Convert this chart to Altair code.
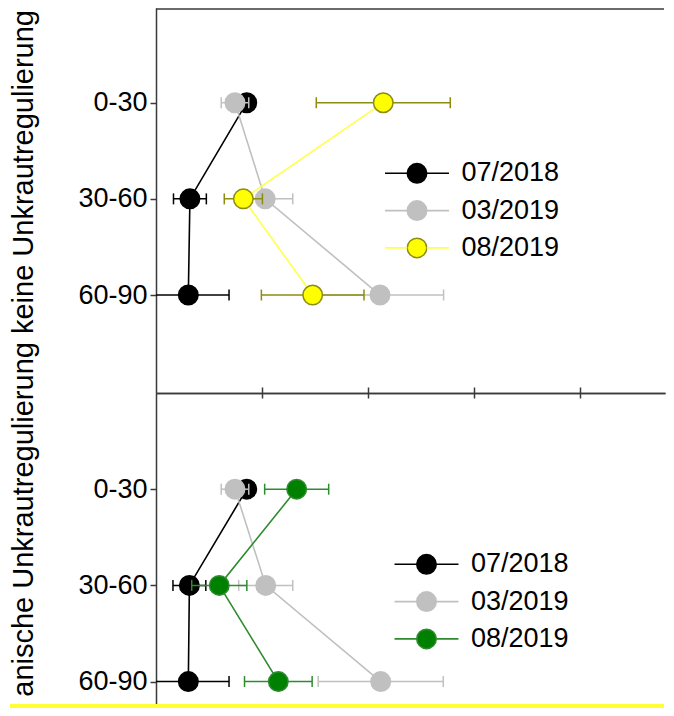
import altair as alt
import pandas as pd

FONT = "Liberation Sans"
FRAME = "#3a3a3a"

depth_labels = ["0-30", "30-60", "60-90"]
series_names = ["07/2018", "03/2019", "08/2019"]
series_codes = ["s0", "s1", "s2"]
title_text = "anische Unkrautregulierung keine Unkrautregulierung"
x_ticks = [1, 2, 3, 4]

# top panel: keine Unkrautregulierung
top_0718 = [0.856, 0.32, 0.305]
top_0718_err = [0.035, 0.155, 0.384]
top_0319 = [0.745, 1.03, 2.113]
top_0319_err = [0.13, 0.26, 0.6]
top_0819 = [2.144, 0.824, 1.478]
top_0819_err = [0.632, 0.18, 0.484]

# bottom panel: mechanische Unkrautregulierung
bot_0718 = [0.856, 0.315, 0.305]
bot_0718_err = [0.035, 0.155, 0.384]
bot_0319 = [0.745, 1.035, 2.12]
bot_0319_err = [0.13, 0.255, 0.59]
bot_0819 = [1.327, 0.597, 1.154]
bot_0819_err = [0.302, 0.26, 0.319]

top_line_colors = ["#000000", "#c0c0c0", "#ffff4d"]
top_fill_colors = ["#000000", "#c0c0c0", "#ffff00"]
top_stroke_colors = ["#000000", "#c0c0c0", "#8c8c10"]
bot_line_colors = ["#000000", "#c0c0c0", "#2e8b2e"]
bot_fill_colors = ["#000000", "#c0c0c0", "#008000"]
bot_stroke_colors = ["#000000", "#c0c0c0", "#2e8b2e"]

W = 509
XMAX = W / 106.0
PT = 380


def make_df(vals, errs):
    rows = []
    for name, code, v, e in zip(series_names, series_codes, vals, errs):
        for i, (xv, ev) in enumerate(zip(v, e)):
            rows.append({"series": name, "code": code, "depth": i + 1, "x": xv, "err": ev})
    return pd.DataFrame(rows)


df_top = make_df([top_0718, top_0319, top_0819], [top_0718_err, top_0319_err, top_0819_err])
df_bot = make_df([bot_0718, bot_0319, bot_0819], [bot_0718_err, bot_0319_err, bot_0819_err])
one_row = pd.DataFrame({"t": [title_text]})

label_expr = "[" + ",".join("'%s'" % d for d in depth_labels) + "][datum.value - 1]"
code_expr = "{" + ",".join("'%s':'%s'" % (c, n) for c, n in zip(series_codes, series_names)) + "}[datum.label]"


def panel(df, line_colors, fill_colors, stroke_colors, height, ydomain, leg_xy, is_top):
    xs = alt.Scale(domain=[0, XMAX], nice=False, zero=False)
    ys = alt.Scale(domain=ydomain, reverse=True, nice=False, zero=False)
    cs = alt.Scale(domain=series_names, range=line_colors)
    fs = alt.Scale(domain=series_codes, range=fill_colors)
    ss = alt.Scale(domain=series_codes, range=stroke_colors)

    yaxis = alt.Axis(values=[1, 2, 3], labelExpr=label_expr, title=None, grid=False,
                     tickSize=6, tickWidth=1.5, tickColor=FRAME, domainColor=FRAME,
                     domainWidth=1.5, labelFont=FONT, labelFontSize=27, labelColor="#000",
                     labelPadding=3, orient="left")
    xaxis = alt.Axis(orient="bottom" if is_top else "top", values=x_ticks, labels=False,
                     title=None, grid=False, tickSize=5 if is_top else 6, tickWidth=1.5,
                     tickColor=FRAME, domainColor=FRAME, domainWidth=1.5)

    leg_line = alt.Legend(orient="none", legendX=leg_xy[0], legendY=leg_xy[1],
                          title=None, symbolType="M-3.28,0L-1,0M1,0L3.28,0", symbolSize=PT,
                          symbolStrokeWidth=1.6, labelFont=FONT, labelFontSize=27,
                          labelColor="#000", rowPadding=9.3, padding=0, labelOffset=31)
    leg_circle = alt.Legend(orient="none", legendX=leg_xy[0], legendY=leg_xy[1],
                            title=None, symbolType="circle", symbolSize=PT,
                            symbolStrokeWidth=1.5, labelFont=FONT, labelFontSize=27,
                            labelColor="transparent", labelExpr=code_expr,
                            rowPadding=9.3, padding=0, labelOffset=31)

    X = lambda f: alt.X(f, scale=xs, axis=xaxis)
    Y = alt.Y("depth:Q", scale=ys, axis=yaxis)
    S = alt.Stroke("code:N", scale=ss, legend=leg_circle)

    base = alt.Chart(df)
    layers = [
        base.mark_line(strokeWidth=1.6).encode(
            x=X("x:Q"), y=Y,
            color=alt.Color("series:N", scale=cs, legend=leg_line),
            order="depth:Q",
        )
    ]
    for s in series_codes:
        sub = base.transform_filter(alt.datum.code == s).transform_calculate(
            lo="datum.x - datum.err", hi="datum.x + datum.err")
        layers.append(
            sub.mark_rule(strokeWidth=1.5, clip=True).encode(
                x=X("lo:Q"), x2="hi:Q", y=Y, stroke=S,
            )
        )
        layers.append(
            sub.transform_fold(["lo", "hi"], as_=["end", "xe"]).mark_point(
                shape="M0,-1L0,1", size=121, strokeWidth=1.5, filled=False, opacity=1, clip=True
            ).encode(
                x=X("xe:Q"), y=Y, stroke=S,
            )
        )
        layers.append(
            sub.mark_point(filled=True, shape="circle", size=PT, strokeWidth=1.5, opacity=1).encode(
                x=X("x:Q"), y=Y,
                fill=alt.Fill("code:N", scale=fs, legend=leg_circle),
                stroke=S,
            )
        )
    if is_top:
        layers.append(
            alt.Chart(one_row).mark_rule(color=FRAME, strokeWidth=1.5, strokeCap="butt").encode(
                x=alt.value(0), x2=alt.value(W - 1), y=alt.value(1))
        )
    else:
        layers.append(
            alt.Chart(one_row).mark_rule(color="#ffff33", strokeWidth=4, strokeCap="butt").encode(
                x=alt.value(-146), x2=alt.value(W - 1), y=alt.value(height + 2))
        )
    return alt.layer(*layers).resolve_legend(color="independent").properties(width=W, height=height)


top = panel(df_top, top_line_colors, top_fill_colors, top_stroke_colors, 385, [0.015, 4.019],
            (247.5, 151.8), True)
bottom = panel(df_bot, bot_line_colors, bot_fill_colors, bot_stroke_colors, 311, [0.0, 3.233],
               (257, 157.8), False)

panels = alt.vconcat(top, bottom, spacing=0, bounds="flush").resolve_scale(
    color="independent", fill="independent", stroke="independent")

title_view = alt.Chart(one_row).mark_text(
    angle=270, align="right", baseline="middle", font=FONT, fontSize=29, color="#000"
).encode(text="t:N", x=alt.value(16), y=alt.value(2)).properties(width=36, height=700)

chart = alt.hconcat(title_view, panels, spacing=112, bounds="flush").properties(
    padding={"left": 0, "top": 0, "right": 0, "bottom": 0}
).configure_view(stroke=None)

chart.save("out.html", embed_options={"renderer": "svg", "actions": False})
